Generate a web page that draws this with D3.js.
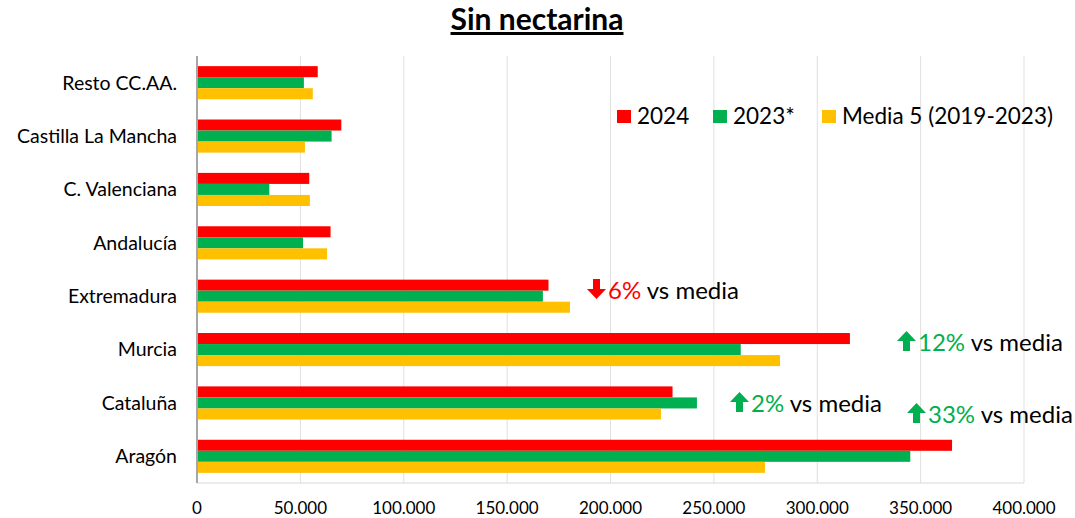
<!DOCTYPE html>
<html>
<head>
<meta charset="utf-8">
<script src="https://cdn.jsdelivr.net/npm/d3@7"></script>
<style>
  body { margin: 0; background: #fff; }
  text { font-family: Lato, "Open Sans", sans-serif; }
</style>
</head>
<body>
<script>
var w = 1075, h = 518;

// categories top to bottom
var regions = ["Resto CC.AA.", "Castilla La Mancha", "C. Valenciana", "Andalucía", "Extremadura", "Murcia", "Cataluña", "Aragón"];
var seriesNames = ["2024", "2023*", "Media 5 (2019-2023)"];
var v2024 = [58400, 69800, 54300, 64600, 170000, 315800, 230000, 365200];
var v2023 = [51700, 65100, 35000, 51300, 167300, 263000, 241800, 345000];
var vMedia = [56000, 52200, 54600, 62900, 180400, 282000, 224400, 274700];
var ticks = [0, 50000, 100000, 150000, 200000, 250000, 300000, 350000, 400000];
var colours = ["#FF0000", "#00B050", "#FFC000"];

// callouts vs the 5-year mean
var notes = [
  { region: "Extremadura", pct: "6%", up: false, x: 587, y: 299 },
  { region: "Murcia", pct: "12%", up: true, x: 897, y: 351 },
  { region: "Cataluña", pct: "2%", up: true, x: 730, y: 412 },
  { region: "Aragón", pct: "33%", up: true, x: 907, y: 423 }
];

var margin = { top: 56, right: 51, bottom: 35, left: 197 };
var iw = w - margin.left - margin.right;
var ih = h - margin.top - margin.bottom;

var data = regions.map(function(r, i) {
  return { region: r, values: [v2024[i], v2023[i], vMedia[i]] };
});

var svg = d3.select("body").append("svg")
  .attr("width", w)
  .attr("height", h);

svg.append("text")
  .attr("x", 537)
  .attr("y", 30)
  .attr("text-anchor", "middle")
  .style("font-size", "30px")
  .style("font-weight", "bold")
  .style("text-decoration", "underline")
  .text("Sin nectarina");

var g = svg.append("g").attr("transform", "translate(" + margin.left + "," + margin.top + ")");

var x = d3.scaleLinear().domain([0, 400000]).range([0, iw]);
var y = d3.scaleBand().domain(regions).range([0, ih]).paddingInner(0.38).paddingOuter(0.19);
var y1 = d3.scaleBand().domain(d3.range(3)).range([0, y.bandwidth()]);

// gridlines
g.selectAll(".grid")
  .data(ticks.slice(1))
  .enter()
  .append("line")
  .attr("x1", function(d) { return x(d); })
  .attr("x2", function(d) { return x(d); })
  .attr("y1", 0)
  .attr("y2", ih)
  .style("stroke", "#e0e0e0")
  .style("stroke-width", 1);

g.append("line")
  .attr("x1", 0).attr("x2", iw)
  .attr("y1", ih).attr("y2", ih)
  .style("stroke", "#d9d9d9");

var groups = g.selectAll(".region")
  .data(data)
  .enter()
  .append("g")
  .attr("transform", function(d) { return "translate(0," + y(d.region) + ")"; });

groups.selectAll("rect")
  .data(function(d) { return d.values; })
  .enter()
  .append("rect")
  .attr("x", 0)
  .attr("y", function(d, i) { return y1(i); })
  .attr("width", function(d) { return x(d); })
  .attr("height", y1.bandwidth())
  .style("fill", function(d, i) { return colours[i]; });

// left axis line
g.append("line")
  .attr("x1", 0).attr("x2", 0)
  .attr("y1", 0).attr("y2", ih)
  .style("stroke", "#a6a6a6")
  .style("stroke-width", 2);

// category labels
g.selectAll(".cat")
  .data(regions)
  .enter()
  .append("text")
  .attr("x", -20)
  .attr("y", function(d) { return y(d) + y.bandwidth() / 2; })
  .attr("dy", "0.35em")
  .attr("text-anchor", "end")
  .style("font-size", "19.5px")
  .style("fill", "#000")
  .text(function(d) { return d; });

// tick labels
var fmt = function(d) { return d3.format(",")(d).replace(/,/g, "."); };
g.selectAll(".tick")
  .data(ticks)
  .enter()
  .append("text")
  .attr("x", function(d) { return x(d); })
  .attr("y", ih + 31)
  .attr("text-anchor", "middle")
  .style("font-size", "17px")
  .text(fmt);

// legend
var legend = svg.append("g");
var legX = [617, 713, 822];
seriesNames.forEach(function(s, i) {
  legend.append("rect")
    .attr("x", legX[i]).attr("y", 110)
    .attr("width", 14).attr("height", 13)
    .style("fill", colours[i]);
  legend.append("text")
    .attr("x", legX[i] + 20).attr("y", 124)
    .style("font-size", "22.5px")
    .text(s);
});

// block arrow, 19 wide and 20 tall, sitting on the text baseline
function arrow(sel, left, base, up, colour) {
  var p = up
    ? [[9.5, -20], [19, -10], [13, -10], [13, 0], [6, 0], [6, -10], [0, -10]]
    : [[9.5, 0], [19, -10], [13, -10], [13, -20], [6, -20], [6, -10], [0, -10]];
  sel.append("path")
    .attr("d", d3.line()(p.map(function(q) { return [left + q[0], base + q[1]]; })) + "Z")
    .style("fill", colour);
}

notes.forEach(function(n) {
  var c = n.up ? "#00B050" : "#FF0000";
  arrow(svg, n.x, n.y, n.up, c);
  var t = svg.append("text")
    .attr("x", n.x + 21)
    .attr("y", n.y)
    .style("font-size", "24px");
  t.append("tspan").style("fill", c).text(n.pct);
  t.append("tspan").style("fill", "#000").text(" vs media");
});
</script>
</body>
</html>
